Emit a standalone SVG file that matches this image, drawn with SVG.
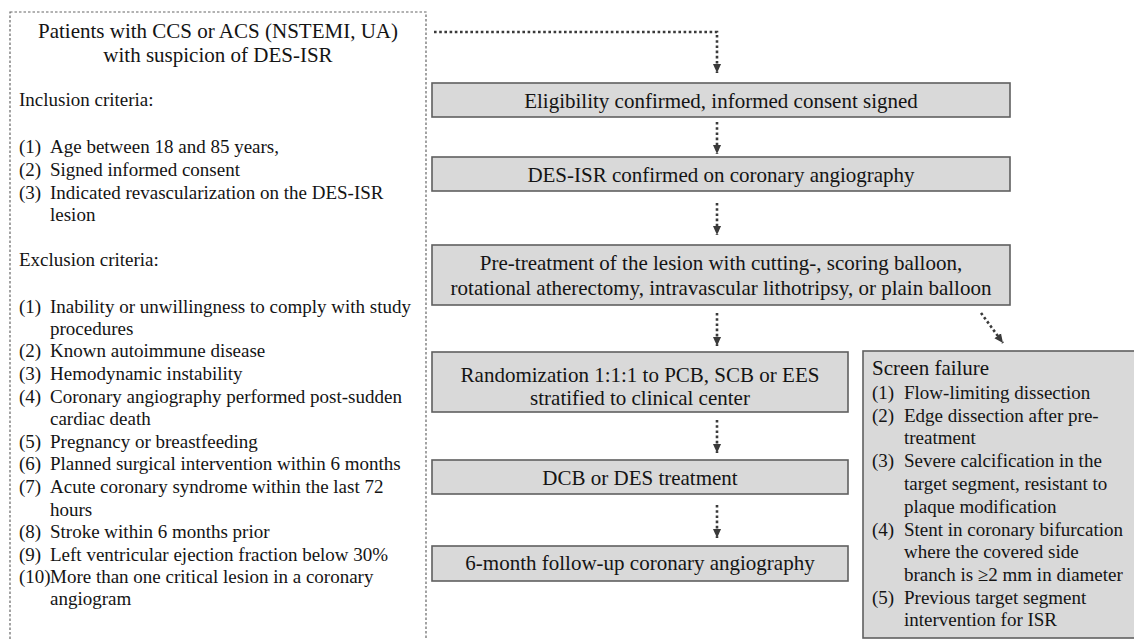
<svg xmlns="http://www.w3.org/2000/svg" width="1134" height="640" viewBox="0 0 1134 640">
<defs>
<style>
.t{font-family:"Liberation Serif","Times New Roman",serif;fill:#141414}
.b19{font-size:19px}
.b21{font-size:21px}
.box{fill:#d9d9d9;stroke:#5f5f5f;stroke-width:1.6}
.frame{fill:#fff;stroke:#666;stroke-width:1.2;stroke-dasharray:2.5 2}
.con{fill:none;stroke:#3a3a3a;stroke-width:2.6;stroke-dasharray:2.6 2.6}
</style>
<marker id="ah" viewBox="0 0 10 10" markerUnits="userSpaceOnUse" markerWidth="9" markerHeight="9" refX="10" refY="5" orient="auto">
<path d="M0,0.5 L10,5 L0,9.5 z" fill="#3a3a3a"/>
</marker>
</defs>
<rect width="1134" height="640" fill="#fff"/>

<g id="criteria">
<rect class="frame" x="10" y="12" width="416" height="640"/>
<text class="t b21" text-anchor="middle" x="218" y="38">Patients with CCS or ACS (NSTEMI, UA)</text>
<text class="t b21" text-anchor="middle" x="218" y="62">with suspicion of DES-ISR</text>
<text class="t b19" x="19" y="106">Inclusion criteria:</text>
<text class="t b19"><tspan x="19" y="153">(1)</tspan><tspan x="50" y="153">Age between 18 and 85 years,</tspan></text>
<text class="t b19"><tspan x="19" y="176">(2)</tspan><tspan x="50" y="176">Signed informed consent</tspan></text>
<text class="t b19"><tspan x="19" y="199">(3)</tspan><tspan x="50" y="199">Indicated revascularization on the DES-ISR</tspan><tspan x="50" y="221">lesion</tspan></text>
<text class="t b19" x="19" y="266">Exclusion criteria:</text>
<text class="t b19"><tspan x="19" y="313">(1)</tspan><tspan x="50" y="313">Inability or unwillingness to comply with study</tspan><tspan x="50" y="335">procedures</tspan></text>
<text class="t b19"><tspan x="19" y="357">(2)</tspan><tspan x="50" y="357">Known autoimmune disease</tspan></text>
<text class="t b19"><tspan x="19" y="380">(3)</tspan><tspan x="50" y="380">Hemodynamic instability</tspan></text>
<text class="t b19"><tspan x="19" y="403">(4)</tspan><tspan x="50" y="403">Coronary angiography performed post-sudden</tspan><tspan x="50" y="425">cardiac death</tspan></text>
<text class="t b19"><tspan x="19" y="448">(5)</tspan><tspan x="50" y="448">Pregnancy or breastfeeding</tspan></text>
<text class="t b19"><tspan x="19" y="470">(6)</tspan><tspan x="50" y="470">Planned surgical intervention within 6 months</tspan></text>
<text class="t b19"><tspan x="19" y="493">(7)</tspan><tspan x="50" y="493">Acute coronary syndrome within the last 72</tspan><tspan x="50" y="516">hours</tspan></text>
<text class="t b19"><tspan x="19" y="538">(8)</tspan><tspan x="50" y="538">Stroke within 6 months prior</tspan></text>
<text class="t b19"><tspan x="19" y="561">(9)</tspan><tspan x="50" y="561">Left ventricular ejection fraction below 30%</tspan></text>
<text class="t b19"><tspan x="19" y="583">(10)</tspan><tspan x="50" y="583">More than one critical lesion in a coronary</tspan><tspan x="50" y="605">angiogram</tspan></text>
</g>

<g id="eligibility">
<rect class="box" x="432" y="83" width="578" height="34"/>
<text class="t b21" text-anchor="middle" x="721" y="108">Eligibility confirmed, informed consent signed</text>
</g>

<g id="desisr">
<rect class="box" x="432" y="157" width="578" height="34"/>
<text class="t b21" text-anchor="middle" x="721" y="182">DES-ISR confirmed on coronary angiography</text>
</g>

<g id="pretreatment">
<rect class="box" x="432" y="245" width="578" height="60"/>
<text class="t b21" text-anchor="middle" x="721" y="270">Pre-treatment of the lesion with cutting-, scoring balloon,</text>
<text class="t b21" text-anchor="middle" x="721" y="295">rotational atherectomy, intravascular lithotripsy, or plain balloon</text>
</g>

<g id="randomization">
<rect class="box" x="432" y="352" width="416" height="60"/>
<text class="t b21" text-anchor="middle" x="640" y="382">Randomization 1:1:1 to PCB, SCB or EES</text>
<text class="t b21" text-anchor="middle" x="640" y="405">stratified to clinical center</text>
</g>

<g id="treatment">
<rect class="box" x="432" y="460" width="416" height="34"/>
<text class="t b21" text-anchor="middle" x="640" y="485">DCB or DES treatment</text>
</g>

<g id="followup">
<rect class="box" x="432" y="546" width="416" height="35"/>
<text class="t b21" text-anchor="middle" x="640" y="570">6-month follow-up coronary angiography</text>
</g>

<g id="screenfailure">
<rect class="box" x="863" y="351" width="285" height="287"/>
<text class="t b21" x="872" y="375">Screen failure</text>
<text class="t b19"><tspan x="872" y="399">(1)</tspan><tspan x="904" y="399">Flow-limiting dissection</tspan></text>
<text class="t b19"><tspan x="872" y="422">(2)</tspan><tspan x="904" y="422">Edge dissection after pre-</tspan><tspan x="904" y="444">treatment</tspan></text>
<text class="t b19"><tspan x="872" y="467">(3)</tspan><tspan x="904" y="467">Severe calcification in the</tspan><tspan x="904" y="490">target segment, resistant to</tspan><tspan x="904" y="513">plaque modification</tspan></text>
<text class="t b19"><tspan x="872" y="536">(4)</tspan><tspan x="904" y="536">Stent in coronary bifurcation</tspan><tspan x="904" y="558">where the covered side</tspan><tspan x="904" y="581">branch is ≥2 mm in diameter</tspan></text>
<text class="t b19"><tspan x="872" y="604">(5)</tspan><tspan x="904" y="604">Previous target segment</tspan><tspan x="904" y="626">intervention for ISR</tspan></text>
</g>

<g id="connectors">
<polyline class="con" points="434,32 717,32 717,73" marker-end="url(#ah)"/>
<line class="con" x1="717" y1="122" x2="717" y2="154" marker-end="url(#ah)"/>
<line class="con" x1="717" y1="203" x2="717" y2="235" marker-end="url(#ah)"/>
<line class="con" x1="717" y1="313" x2="717" y2="346" marker-end="url(#ah)"/>
<line class="con" x1="717" y1="420" x2="717" y2="453" marker-end="url(#ah)"/>
<line class="con" x1="717" y1="505" x2="717" y2="538" marker-end="url(#ah)"/>
<line class="con" x1="981" y1="313" x2="1003" y2="343" marker-end="url(#ah)"/>
</g>
</svg>
